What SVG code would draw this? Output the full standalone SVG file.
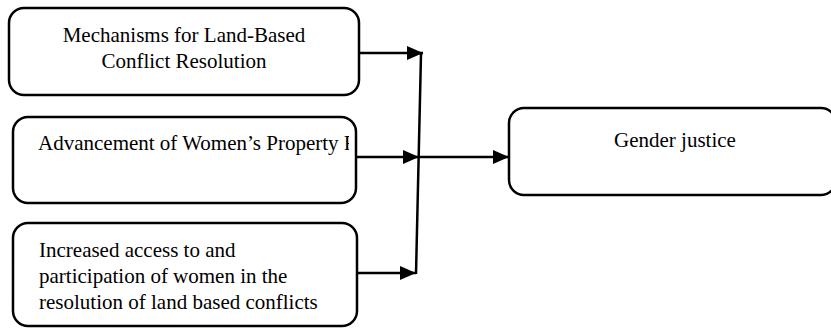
<svg xmlns="http://www.w3.org/2000/svg" width="831" height="328" viewBox="0 0 831 328">
<style>
.box{fill:#fff;stroke:#000;stroke-width:2.5}
.t{font-family:"Liberation Serif","Times New Roman",serif;font-size:21px;fill:#000}
.c{text-anchor:middle}
.ln{stroke:#000;stroke-width:2.5;fill:none}
</style>
<defs>
<marker id="ah" markerUnits="userSpaceOnUse" markerWidth="16" markerHeight="14" refX="16" refY="7" orient="auto">
<path d="M0,0 L16,7 L0,14 Z" fill="#000"/>
</marker>
<clipPath id="clip2"><rect x="13" y="117" width="336" height="86"/></clipPath>
</defs>
<rect width="831" height="328" fill="#fff"/>
<g id="node-mechanisms">
<rect class="box" x="9" y="8" width="350" height="87" rx="15"/>
<text class="t c" x="184" y="42">Mechanisms for Land-Based</text>
<text class="t c" x="184" y="68">Conflict Resolution</text>
</g>
<g id="node-advancement">
<rect class="box" x="13" y="117" width="343" height="86" rx="15"/>
<text class="t" x="38" y="150" clip-path="url(#clip2)">Advancement of Women’s Property Rights</text>
</g>
<g id="node-access">
<rect class="box" x="13" y="223" width="344" height="103" rx="15"/>
<text class="t" x="39" y="257">Increased access to and</text>
<text class="t" x="39" y="283">participation of women in the</text>
<text class="t" x="39" y="309">resolution of land based conflicts</text>
</g>
<g id="node-gender">
<rect class="box" x="509" y="108" width="327" height="87" rx="15"/>
<text class="t c" x="675" y="147">Gender justice</text>
</g>
<g id="connectors">
<line class="ln" x1="359" y1="53" x2="423" y2="53" marker-end="url(#ah)"/>
<line class="ln" x1="421" y1="54" x2="416" y2="274"/>
<line class="ln" x1="356" y1="157" x2="419" y2="157" marker-end="url(#ah)"/>
<line class="ln" x1="418" y1="157" x2="509" y2="157" marker-end="url(#ah)"/>
<line class="ln" x1="357" y1="273" x2="416" y2="273" marker-end="url(#ah)"/>
</g>
</svg>
